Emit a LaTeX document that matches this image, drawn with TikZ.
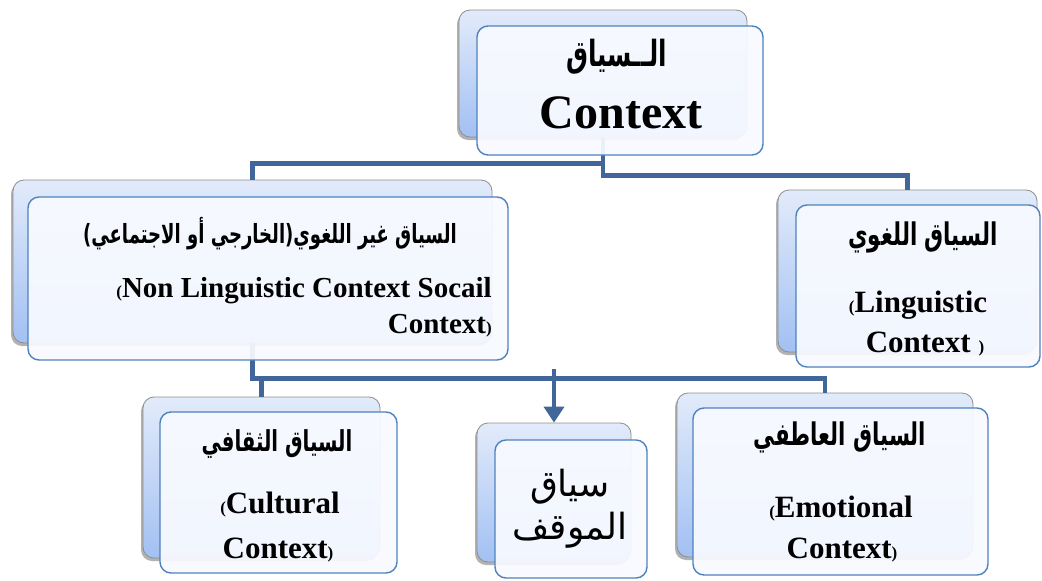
\documentclass[tikz,border=0pt]{standalone}
\usepackage{fontspec}
\usepackage{graphicx}
\setmainfont{Liberation Serif}
\newfontfamily\arabicfont[Script=Arabic]{DejaVu Sans}
\TeXXeTstate=1
\usetikzlibrary{shadows,arrows.meta}

\definecolor{connblue}{HTML}{41679A}
\definecolor{frontedge}{HTML}{4F81BD}
\definecolor{frontfill}{HTML}{F8FAFF}
\definecolor{backtop}{HTML}{E2EBFA}
\definecolor{backbot}{HTML}{A2C0F3}
\definecolor{backedge}{HTML}{8E8E8E}

% narrow, tall setting of the bold Arabic headings
\newcommand\tallar[1]{\scalebox{0.82}[1.2]{#1}}
% small parenthesis beside the Latin words
\newcommand\smpar[1]{{\fontsize{17}{17}\selectfont #1}}

\tikzset{
  backbox/.style={draw=backedge, line width=0.8pt, rounded corners=11pt,
    top color=backtop, bottom color=backbot, inner sep=0pt,
    drop shadow={shadow xshift=-2pt, shadow yshift=-3pt, opacity=0.3, fill=black}},
  frontbox/.style={draw=frontedge, line width=1.4pt, rounded corners=11pt,
    fill=frontfill, fill opacity=0.93, inner sep=0pt},
  conn/.style={draw=connblue, line width=4.5pt},
  entext/.style={font=\fontsize{31}{31}\selectfont\bfseries, anchor=base, inner sep=0pt},
  entextl/.style={entext, font=\fontsize{29}{29}\selectfont\bfseries, anchor=base east},
  artext/.style={inner sep=0pt, font=\arabicfont\bfseries\fontsize{#1}{#1}\selectfont},
  arplain/.style={inner sep=0pt, font=\arabicfont\fontsize{#1}{#1}\selectfont}
}

\begin{document}
\begin{tikzpicture}[x=1pt,y=-1pt]
\useasboundingbox (0,0) rectangle (1042,581);
\fill[white] (0,0) rectangle (1042,581);

% rear panels
\node[backbox, minimum width=288, minimum height=127] (tb) at (603,73.5) {};
\node[backbox, minimum width=479, minimum height=163] (lb) at (252.5,261.5) {};
\node[backbox, minimum width=259, minimum height=162] (rb) at (907.5,271) {};
\node[backbox, minimum width=237, minimum height=161] (cb) at (261.5,477.5) {};
\node[backbox, minimum width=154, minimum height=139] (mb) at (554,492.5) {};
\node[backbox, minimum width=296, minimum height=164] (eb) at (825,475) {};

% connectors
\coordinate (split) at (554,369);
\draw[conn] (tb.south) -- ++(0,26) -| (lb.north);
\draw[conn] (tb.south) -- ++(0,38) -| (rb.north);
\draw[conn] (lb.south) -- ++(0,35) -| (eb.north);
\draw[conn] (lb.south) ++(0,35) -| (cb.north);
\draw[conn, -{Triangle[width=20pt,length=16pt]}] (split) -- (mb.north);

% front panels
\node[frontbox, minimum width=286, minimum height=129] (tf) at (620,90.5) {};
\node[frontbox, minimum width=480, minimum height=163] (lf) at (268,278.5) {};
\node[frontbox, minimum width=244, minimum height=162] (rf) at (918,286) {};
\node[frontbox, minimum width=237, minimum height=161] (cf) at (278.5,492.5) {};
\node[frontbox, minimum width=152, minimum height=138] (mf) at (571,509) {};
\node[frontbox, minimum width=295, minimum height=167] (ef) at (840.5,491.5) {};

% labels
\node[artext=30] (tf-ar) at (617,57) {\tallar{\beginR الــسياق\endR}};
\node[entext, font=\fontsize{48}{48}\selectfont\bfseries] (tf-en) at (621,128) {Context};

% parentheses set as plain glyphs, facing outward
\node[artext=22] (lf-ar) at (270,234)
  {\tallar{)\beginR الخارجي أو الاجتماعي\endR(\beginR السياق غير  اللغوي\endR}};
\node[entextl] (lf-en1) at (492,297) {\smpar{(}Non Linguistic Context Socail};
\node[entextl] (lf-en2) at (492,333) {Context\smpar{)}};

\node[artext=26] (rf-ar) at (923,237) {\tallar{\beginR السياق اللغوي\endR}};
\node[entext] (rf-en1) at (918,312) {\smpar{(}Linguistic};
\node[entext] (rf-en2) at (925,352) {Context \smpar{)}};

\node[artext=24] (cf-ar) at (277,444) {\tallar{\beginR السياق الثقافي\endR}};
\node[entext] (cf-en1) at (280,513) {\smpar{(}Cultural};
\node[entext] (cf-en2) at (278,558) {Context\smpar{)}};

\node[arplain=36] (mf-ar1) at (570,487) {\beginR سياق\endR};
\node[arplain=36] (mf-ar2) at (570,530) {\beginR الموقف\endR};

\node[artext=26] (ef-ar) at (840,437) {\tallar{\beginR السياق العاطفي\endR}};
\node[entext] (ef-en1) at (841,517) {\smpar{(}Emotional};
\node[entext] (ef-en2) at (842,558) {Context\smpar{)}};
\end{tikzpicture}
\end{document}
